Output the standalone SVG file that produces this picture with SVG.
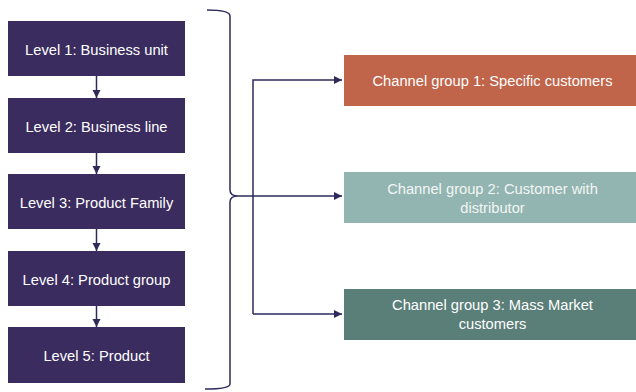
<svg xmlns="http://www.w3.org/2000/svg" width="636" height="392" viewBox="0 0 636 392">
<defs>
<marker id="ah" markerWidth="10" markerHeight="10" refX="8" refY="4" orient="auto" markerUnits="userSpaceOnUse">
<path d="M0,0 L8,4 L0,8 Z" fill="#2e2a5c"/>
</marker>
<style>
.lvl{fill:#3a2c5e}
.t{font-family:"Liberation Sans",Arial,sans-serif;font-size:14.7px;fill:#ffffff;text-anchor:middle}
.ln{stroke:#2e2a5c;stroke-width:1.5;fill:none}
</style>
</defs>
<rect width="636" height="392" fill="#ffffff"/>
<g id="level1"><rect class="lvl" x="8" y="21" width="177" height="55"/><text class="t" x="96.5" y="55">Level 1: Business unit</text></g>
<g id="level2"><rect class="lvl" x="8" y="98" width="177" height="55"/><text class="t" x="96.5" y="131.5">Level 2: Business line</text></g>
<g id="level3"><rect class="lvl" x="8" y="174" width="177" height="55"/><text class="t" x="96.5" y="208">Level 3: Product Family</text></g>
<g id="level4"><rect class="lvl" x="8" y="251" width="177" height="55"/><text class="t" x="96.5" y="284.5">Level 4: Product group</text></g>
<g id="level5"><rect class="lvl" x="8" y="327" width="177" height="56"/><text class="t" x="96.5" y="361">Level 5: Product</text></g>
<g id="channel1"><rect x="344" y="55" width="297" height="51" fill="#c0644a"/><text class="t" x="492.5" y="85.5">Channel group 1: Specific customers</text></g>
<g id="channel2"><rect x="344" y="172" width="297" height="51" fill="#93b5b1"/><text class="t" x="492.5" y="193.5" style="fill:#f2f5f5">Channel group 2: Customer with</text><text class="t" x="492.5" y="213" style="fill:#f2f5f5">distributor</text></g>
<g id="channel3"><rect x="344" y="289" width="297" height="51" fill="#5a7e78"/><text class="t" x="492.5" y="310">Channel group 3: Mass Market</text><text class="t" x="492.5" y="329">customers</text></g>
<g id="connectors">
<line class="ln" x1="96.5" y1="76" x2="96.5" y2="98" marker-end="url(#ah)"/>
<line class="ln" x1="96.5" y1="153" x2="96.5" y2="174" marker-end="url(#ah)"/>
<line class="ln" x1="96.5" y1="229" x2="96.5" y2="251" marker-end="url(#ah)"/>
<line class="ln" x1="96.5" y1="306" x2="96.5" y2="327" marker-end="url(#ah)"/>
<path class="ln" d="M207,10 Q230,10 230,16 L230,190 Q230,196 238,196 Q230,196 230,202 L230,384 Q230,389 205,389"/>
<path class="ln" d="M238,196 L342,196" marker-end="url(#ah)"/>
<path class="ln" d="M253,314 L253,80 L342,80" marker-end="url(#ah)"/>
<path class="ln" d="M253,314 L342,314" marker-end="url(#ah)"/>
</g>
</svg>
